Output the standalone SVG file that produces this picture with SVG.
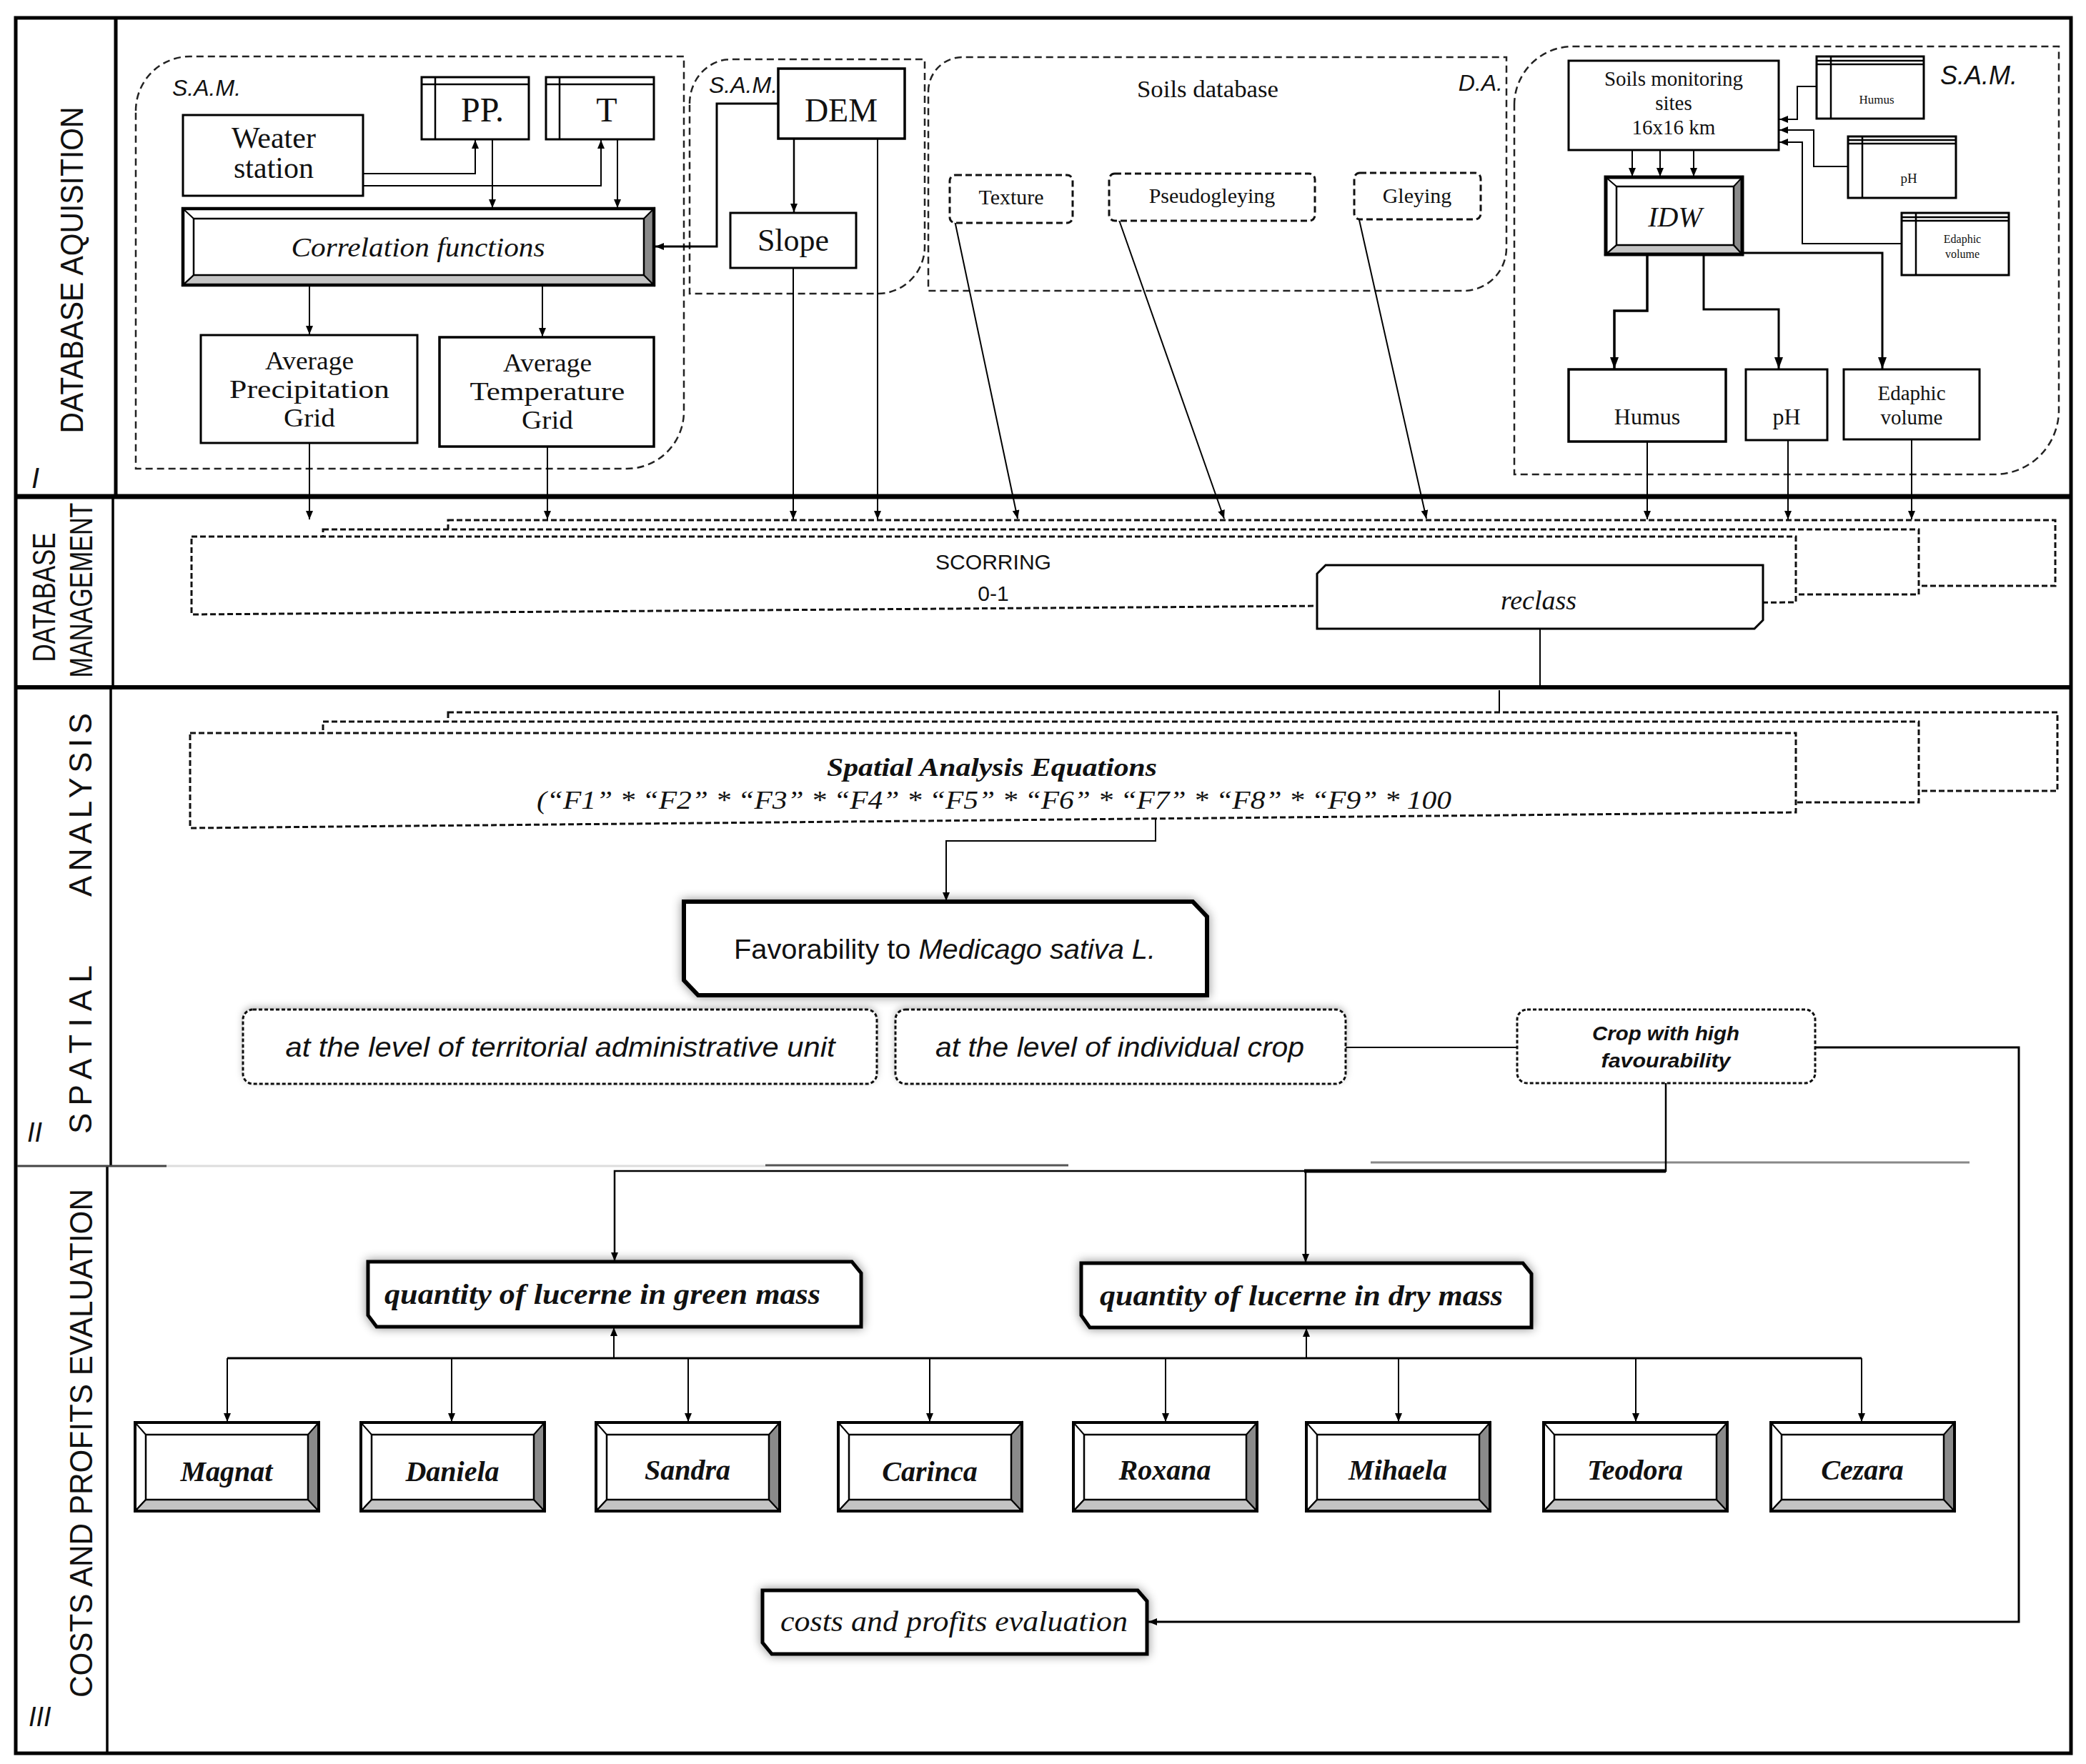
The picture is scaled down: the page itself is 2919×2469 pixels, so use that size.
<svg xmlns="http://www.w3.org/2000/svg" xmlns:xlink="http://www.w3.org/1999/xlink" width="2919" height="2469" viewBox="0 0 2919 2469">
<defs>
<style>
.frame{fill:none;stroke:#000;stroke-width:5}
.box{fill:#fff;stroke:#000;stroke-width:3}
.tbl{fill:none;stroke:#000;stroke-width:2.5}
.dash{fill:none;stroke:#222;stroke-width:2.5;stroke-dasharray:10 6}
.dbox{fill:#fff;stroke:#111;stroke-width:3;stroke-dasharray:9 5}
.stk{fill:#fff;stroke:#111;stroke-width:3;stroke-dasharray:8 4}
.fine{fill:#fff;stroke:#111;stroke-width:3;stroke-dasharray:5 3}
.con{fill:none;stroke:#000;stroke-width:2;marker-end:url(#ah)}
.conb{fill:none;stroke:#000;stroke-width:3.5;marker-end:url(#ahb)}
.ln{fill:none;stroke:#000;stroke-width:2}
.thick{fill:#fff;stroke:#000;stroke-width:6}
.serif{font-family:"Liberation Serif","Times New Roman",serif;fill:#111}
.sans{font-family:"Liberation Sans",Arial,sans-serif;fill:#111}
.c{text-anchor:middle}
.it{font-style:italic}
.b{font-weight:bold}
</style>
<marker id="ah" viewBox="0 0 12 10" refX="12" refY="5" markerWidth="12" markerHeight="10" markerUnits="userSpaceOnUse" orient="auto"><path d="M0,0 L12,5 L0,10 Z" fill="#000"/></marker>
<marker id="ahb" viewBox="0 0 16 12" refX="16" refY="6" markerWidth="16" markerHeight="12" markerUnits="userSpaceOnUse" orient="auto"><path d="M0,0 L16,6 L0,12 Z" fill="#000"/></marker>
<filter id="sh" x="-10%" y="-40%" width="120%" height="180%"><feDropShadow dx="0" dy="0" stdDeviation="7" flood-color="#000" flood-opacity="0.45"/></filter>
<filter id="shl" x="-10%" y="-40%" width="120%" height="180%"><feDropShadow dx="0" dy="-3" stdDeviation="5" flood-color="#000" flood-opacity="0.25"/></filter>
<g id="bev">
<rect x="0" y="0" width="257" height="124" fill="#fff"/>
<path d="M0,124 L257,124 L242,108 L15,108 Z" fill="#c4c4c4" stroke="#000" stroke-width="2"/>
<path d="M257,0 L257,124 L242,108 L242,17 Z" fill="#8a8a8a" stroke="#000" stroke-width="2"/>
<path d="M0,0 L15,17 M0,124 L15,108" stroke="#000" stroke-width="2"/>
<rect x="15" y="17" width="227" height="91" fill="none" stroke="#000" stroke-width="2.5"/>
<rect x="0" y="0" width="257" height="124" fill="none" stroke="#000" stroke-width="4"/>
</g>
</defs>
<rect x="0" y="0" width="2919" height="2469" fill="#fff"/>

<!-- frame and lanes -->
<g id="frame">
<rect x="22" y="25" width="2876" height="2429" class="frame"/>
<path d="M162,25 V695" stroke="#000" stroke-width="5" fill="none"/>
<path d="M158,695 V962 M155,962 V1632 M150,1632 V2454" stroke="#000" stroke-width="3.5" fill="none"/>
<path d="M22,695 H2898" stroke="#000" stroke-width="7"/>
<path d="M22,962 H2898" stroke="#000" stroke-width="6"/>
<path d="M24,1632 H233" stroke="#444" stroke-width="3"/>
<path d="M233,1632 H1071" stroke="#ddd" stroke-width="3"/>
<path d="M1071,1631 H1495" stroke="#555" stroke-width="3"/>
<path d="M1918,1627 H2756" stroke="#888" stroke-width="3"/>
<text class="sans" font-size="44" text-anchor="middle" textLength="457" lengthAdjust="spacingAndGlyphs" transform="translate(116,378) rotate(-90)">DATABASE AQUISITION</text>
<text class="sans" font-size="44" text-anchor="middle" textLength="181" lengthAdjust="spacingAndGlyphs" transform="translate(77,836) rotate(-90)">DATABASE</text>
<text class="sans" font-size="44" text-anchor="middle" textLength="245" lengthAdjust="spacingAndGlyphs" transform="translate(129,826) rotate(-90)">MANAGEMENT</text>
<text class="sans" font-size="44" textLength="236" lengthAdjust="spacing" transform="translate(128,1587) rotate(-90)">SPATIAL</text>
<text class="sans" font-size="44" textLength="257" lengthAdjust="spacing" transform="translate(128,1255) rotate(-90)">ANALYSIS</text>
<text class="sans" font-size="44" text-anchor="middle" textLength="712" lengthAdjust="spacingAndGlyphs" transform="translate(129,2020) rotate(-90)">COSTS AND PROFITS EVALUATION</text>
<text class="sans it" font-size="40" x="44" y="683">I</text>
<text class="sans it" font-size="38" x="38" y="1598">II</text>
<text class="sans it" font-size="38" x="40" y="2416">III</text>
</g>

<!-- dashed regions -->
<g id="regions">
<path class="dash" d="M190,155 A76,76 0 0 1 266,79 H957 V576 A80,80 0 0 1 877,656 H190 Z"/>
<text class="sans it" font-size="32" x="241" y="134">S.A.M.</text>
<path class="dash" d="M965,145 A58,62 0 0 1 1023,83 H1294 V345 A66,66 0 0 1 1228,411 H965 Z"/>
<text class="sans it" font-size="32" x="992" y="130">S.A.M.</text>
<path class="dash" d="M1299,128 A48,48 0 0 1 1347,80 H2108 V347 A60,60 0 0 1 2048,407 H1299 Z"/>
<text class="serif c" font-size="33" x="1690" y="136" textLength="198" lengthAdjust="spacingAndGlyphs">Soils database</text>
<text class="sans it" font-size="32" x="2103" y="127" text-anchor="end">D.A.</text>
<path class="dash" d="M2119,147 A82,82 0 0 1 2201,65 H2881 V574 A90,90 0 0 1 2791,664 H2119 Z"/>
<text class="sans it" font-size="36" x="2715" y="118">S.A.M.</text>
</g>

<!-- connectors -->
<g id="connectors">
<path class="con" d="M508,243 H665 V196"/>
<path class="con" d="M508,260 H841 V196"/>
<path class="con" d="M689,195 V291"/>
<path class="con" d="M864,195 V291"/>
<path class="con" d="M433,399 V468"/>
<path class="con" d="M759,399 V471"/>
<path class="con" d="M433,620 V727"/>
<path class="con" d="M766,625 V727"/>
<path class="con" d="M1111,194 V297" style="stroke-width:2.5"/>
<path class="con" d="M1089,145 H1003 V345 H917" style="stroke-width:3"/>
<path class="con" d="M1110,375 V727"/>
<path class="con" d="M1228,194 V727"/>
<path class="con" d="M1332,290 L1424,726"/>
<path class="con" d="M1555,277 L1713,726"/>
<path class="con" d="M1898,290 L1996,726"/>
<path class="con" d="M2542,121 H2515 V167 H2490"/>
<path class="con" d="M2586,233 H2538 V182 H2490"/>
<path class="con" d="M2661,341 H2522 V199 H2490"/>
<path class="con" d="M2284,210 V247"/>
<path class="con" d="M2323,210 V247"/>
<path class="con" d="M2370,210 V247"/>
<path class="conb" d="M2305,356 V435 H2259 V516"/>
<path class="conb" d="M2384,356 V433 H2489 V516" style="stroke-width:3"/>
<path class="conb" d="M2438,354 H2634 V516" style="stroke-width:3"/>
<path class="con" d="M2305,618 V727"/>
<path class="con" d="M2502,616 V727"/>
<path class="con" d="M2675,615 V727"/>
<path class="ln" d="M2155,880 V964"/>
<path class="ln" d="M2098,966 V996"/>
<path class="con" d="M1617,1145 V1177 H1324 V1261"/>
<path class="ln" d="M1883,1466 H2123"/>
<path class="con" d="M2540,1466 H2825 V2270 H1607" style="stroke-width:3"/>
<path class="con" d="M2331,1516 V1639 H860 V1765" style="stroke-width:2.5"/>
<path class="con" d="M1827,1639 V1767" style="stroke-width:2.5"/>
<path class="ln" d="M1825,1639 H2331" style="stroke-width:5"/>
<path class="ln" d="M318,1901 H2605" style="stroke-width:3"/>
<path class="con" d="M859,1901 V1858"/>
<path class="con" d="M1828,1901 V1859"/>
<path class="con" d="M318,1901 V1990"/>
<path class="con" d="M632,1901 V1990"/>
<path class="con" d="M963,1901 V1990"/>
<path class="con" d="M1301,1901 V1990"/>
<path class="con" d="M1631,1901 V1990"/>
<path class="con" d="M1957,1901 V1990"/>
<path class="con" d="M2289,1901 V1990"/>
<path class="con" d="M2605,1901 V1990"/>
</g>

<!-- Section I nodes -->
<g id="weather">
<rect class="box" x="256" y="161" width="252" height="113"/>
<text class="serif c" font-size="42" x="383" y="207">Weater</text>
<text class="serif c" font-size="42" x="383" y="249">station</text>
</g>
<g id="pp">
<rect class="box" x="590" y="108" width="150" height="87"/>
<path class="tbl" d="M609,108 V195 M590,118 H740"/>
<text class="serif c" font-size="48" x="675" y="170" textLength="60" lengthAdjust="spacingAndGlyphs">PP.</text>
</g>
<g id="t">
<rect class="box" x="764" y="108" width="151" height="87"/>
<path class="tbl" d="M783,108 V195 M764,118 H915"/>
<text class="serif c" font-size="48" x="849" y="170">T</text>
</g>
<g id="correlation">
<rect x="256" y="292" width="659" height="107" fill="#fff"/>
<path d="M256,399 L915,399 L901,385 L271,385 Z" fill="#c4c4c4" stroke="#000" stroke-width="2"/>
<path d="M915,292 L915,399 L901,385 L901,306 Z" fill="#8a8a8a" stroke="#000" stroke-width="2"/>
<path d="M256,292 L271,306 M256,399 L271,385" stroke="#000" stroke-width="2"/>
<rect x="271" y="306" width="630" height="79" fill="none" stroke="#000" stroke-width="2.5"/>
<rect x="256" y="292" width="659" height="107" fill="none" stroke="#000" stroke-width="4.5"/>
<text class="serif it c" font-size="38" x="585" y="359" textLength="355" lengthAdjust="spacingAndGlyphs">Correlation functions</text>
</g>
<g id="avgprecip">
<rect class="box" x="281" y="469" width="303" height="151"/>
<text class="serif c" font-size="35" x="433" y="517" textLength="124" lengthAdjust="spacingAndGlyphs">Average</text>
<text class="serif c" font-size="35" x="433" y="557" textLength="224" lengthAdjust="spacingAndGlyphs">Precipitation</text>
<text class="serif c" font-size="35" x="433" y="597" textLength="72" lengthAdjust="spacingAndGlyphs">Grid</text>
</g>
<g id="avgtemp">
<rect class="box" x="615" y="472" width="300" height="153" style="stroke-width:3.5"/>
<text class="serif c" font-size="35" x="766" y="520" textLength="124" lengthAdjust="spacingAndGlyphs">Average</text>
<text class="serif c" font-size="35" x="766" y="560" textLength="217" lengthAdjust="spacingAndGlyphs">Temperature</text>
<text class="serif c" font-size="35" x="766" y="600" textLength="72" lengthAdjust="spacingAndGlyphs">Grid</text>
</g>
<g id="dem">
<rect class="box" x="1089" y="96" width="177" height="98" style="stroke-width:3.5"/>
<text class="serif c" font-size="46" x="1177" y="170">DEM</text>
</g>
<g id="slope">
<rect class="box" x="1022" y="298" width="176" height="77"/>
<text class="serif c" font-size="44" x="1110" y="351">Slope</text>
</g>
<g id="texture">
<rect class="dbox" x="1329" y="245" width="172" height="67" rx="8"/>
<text class="serif c" font-size="30" x="1415" y="286">Texture</text>
</g>
<g id="pseudogleying">
<rect class="dbox" x="1552" y="243" width="288" height="66" rx="8"/>
<text class="serif c" font-size="30" x="1696" y="284">Pseudogleying</text>
</g>
<g id="gleying">
<rect class="dbox" x="1895" y="242" width="177" height="65" rx="8"/>
<text class="serif c" font-size="30" x="1983" y="284">Gleying</text>
</g>
<g id="monitoring">
<rect class="box" x="2195" y="85" width="294" height="125"/>
<text class="serif c" font-size="29" x="2342" y="120">Soils monitoring</text>
<text class="serif c" font-size="29" x="2342" y="154">sites</text>
<text class="serif c" font-size="29" x="2342" y="188">16x16 km</text>
</g>
<g id="humus-tbl">
<rect class="box" x="2542" y="79" width="150" height="87"/>
<path class="tbl" d="M2562,79 V166 M2542,85 H2692 M2542,90 H2692"/>
<text class="serif c" font-size="17" x="2626" y="145">Humus</text>
</g>
<g id="ph-tbl">
<rect class="box" x="2586" y="191" width="151" height="86"/>
<path class="tbl" d="M2606,191 V277 M2586,196 H2737 M2586,201 H2737"/>
<text class="serif c" font-size="19" x="2671" y="256">pH</text>
</g>
<g id="edaphic-tbl">
<rect class="box" x="2661" y="298" width="150" height="87"/>
<path class="tbl" d="M2681,298 V385 M2661,304 H2811 M2661,309 H2811"/>
<text class="serif c" font-size="16" x="2746" y="340">Edaphic</text>
<text class="serif c" font-size="16" x="2746" y="361">volume</text>
</g>
<g id="idw">
<rect x="2247" y="248" width="191" height="108" fill="#fff"/>
<path d="M2247,356 L2438,356 L2426,343 L2262,343 Z" fill="#c4c4c4" stroke="#000" stroke-width="2"/>
<path d="M2438,248 L2438,356 L2426,343 L2426,261 Z" fill="#8a8a8a" stroke="#000" stroke-width="2"/>
<path d="M2247,248 L2262,261 M2247,356 L2262,343" stroke="#000" stroke-width="2"/>
<rect x="2262" y="261" width="164" height="82" fill="none" stroke="#000" stroke-width="2.5"/>
<rect x="2247" y="248" width="191" height="108" fill="none" stroke="#000" stroke-width="5"/>
<text class="serif it c" font-size="40" x="2344" y="317">IDW</text>
</g>
<g id="humus">
<rect class="box" x="2195" y="517" width="220" height="101" style="stroke-width:3.5"/>
<text class="serif c" font-size="32" x="2305" y="594">Humus</text>
</g>
<g id="ph">
<rect class="box" x="2443" y="517" width="114" height="99"/>
<text class="serif c" font-size="32" x="2500" y="594">pH</text>
</g>
<g id="edaphic">
<rect class="box" x="2580" y="517" width="190" height="98"/>
<text class="serif c" font-size="29" x="2675" y="560">Edaphic</text>
<text class="serif c" font-size="29" x="2675" y="594">volume</text>
</g>

<!-- Section II: scoring stack -->
<g id="scoring">
<rect class="stk" x="627" y="728" width="2249" height="92"/>
<rect class="stk" x="452" y="741" width="2233" height="91"/>
<path class="stk" d="M268,751 H2513 V843 L268,860 Z"/>
<text class="sans c" font-size="30" x="1390" y="797" textLength="162" lengthAdjust="spacingAndGlyphs">SCORRING</text>
<text class="sans c" font-size="30" x="1390" y="841">0-1</text>
</g>
<g id="reclass">
<path d="M1855,791 H2467 V868 L2455,880 H1843 V803 Z" fill="#fff" stroke="#000" stroke-width="3"/>
<text class="serif it c" font-size="38" x="2153" y="853">reclass</text>
</g>

<!-- Section III -->
<g id="equations">
<rect class="stk" x="627" y="997" width="2252" height="110"/>
<rect class="stk" x="452" y="1010" width="2233" height="113"/>
<path class="stk" d="M266,1026 H2513 V1137 L266,1159 Z"/>
<text class="serif it b c" font-size="36" x="1388" y="1086" textLength="462" lengthAdjust="spacingAndGlyphs">Spatial Analysis Equations</text>
<text class="serif it c" font-size="36" x="1391" y="1132" textLength="1280" lengthAdjust="spacingAndGlyphs">(“F1” * “F2” * “F3” * “F4” * “F5” * “F6” * “F7” * “F8” * “F9” * 100</text>
</g>
<g id="favorability">
<path class="thick" filter="url(#sh)" d="M957,1262 H1669 L1689,1283 V1393 H977 L957,1372 Z"/>
<text class="sans c" font-size="38" x="1322" y="1342" textLength="590" lengthAdjust="spacingAndGlyphs">Favorability to <tspan class="it">Medicago sativa L.</tspan></text>
</g>
<g id="territorial">
<rect class="fine" filter="url(#shl)" x="340" y="1413" width="887" height="104" rx="14"/>
<text class="sans it c" font-size="38" x="784" y="1479" textLength="769" lengthAdjust="spacingAndGlyphs">at the level of territorial administrative unit</text>
</g>
<g id="individual">
<rect class="fine" filter="url(#shl)" x="1253" y="1413" width="630" height="104" rx="14"/>
<text class="sans it c" font-size="38" x="1567" y="1479" textLength="516" lengthAdjust="spacingAndGlyphs">at the level of individual crop</text>
</g>
<g id="crophigh">
<rect class="fine" x="2123" y="1413" width="417" height="103" rx="14"/>
<text class="sans it b c" font-size="28" x="2331" y="1456" textLength="206" lengthAdjust="spacingAndGlyphs">Crop with high</text>
<text class="sans it b c" font-size="28" x="2331" y="1494" textLength="181" lengthAdjust="spacingAndGlyphs">favourability</text>
</g>

<!-- Section IV -->
<g id="greenmass">
<path class="thick" filter="url(#sh)" style="stroke-width:5" d="M515,1766 H1192 L1205,1782 V1857 H527 L515,1841 Z"/>
<text class="serif it b c" font-size="40" x="843" y="1825" textLength="610" lengthAdjust="spacingAndGlyphs">quantity of lucerne in green mass</text>
</g>
<g id="drymass">
<path class="thick" filter="url(#sh)" style="stroke-width:5" d="M1513,1768 H2131 L2143,1783 V1858 H1525 L1513,1841 Z"/>
<text class="serif it b c" font-size="40" x="1821" y="1827" textLength="564" lengthAdjust="spacingAndGlyphs">quantity of lucerne in dry mass</text>
</g>
<g id="magnat"><use xlink:href="#bev" href="#bev" x="189" y="1991"/><text class="serif it b c" font-size="40" x="317" y="2073">Magnat</text></g>
<g id="daniela"><use xlink:href="#bev" href="#bev" x="505" y="1991"/><text class="serif it b c" font-size="40" x="633" y="2073">Daniela</text></g>
<g id="sandra"><use xlink:href="#bev" href="#bev" x="834" y="1991"/><text class="serif it b c" font-size="40" x="962" y="2071">Sandra</text></g>
<g id="carinca"><use xlink:href="#bev" href="#bev" x="1173" y="1991"/><text class="serif it b c" font-size="40" x="1301" y="2073">Carinca</text></g>
<g id="roxana"><use xlink:href="#bev" href="#bev" x="1502" y="1991"/><text class="serif it b c" font-size="40" x="1630" y="2071">Roxana</text></g>
<g id="mihaela"><use xlink:href="#bev" href="#bev" x="1828" y="1991"/><text class="serif it b c" font-size="40" x="1956" y="2071">Mihaela</text></g>
<g id="teodora"><use xlink:href="#bev" href="#bev" x="2160" y="1991"/><text class="serif it b c" font-size="40" x="2288" y="2071">Teodora</text></g>
<g id="cezara"><use xlink:href="#bev" href="#bev" x="2478" y="1991"/><text class="serif it b c" font-size="40" x="2606" y="2071">Cezara</text></g>
<g id="costs">
<path class="thick" filter="url(#sh)" style="stroke-width:5" d="M1067,2226 H1592 L1605,2241 V2315 H1080 L1067,2299 Z"/>
<text class="serif it c" font-size="40" x="1335" y="2283" textLength="486" lengthAdjust="spacingAndGlyphs">costs and profits evaluation</text>
</g>
</svg>
